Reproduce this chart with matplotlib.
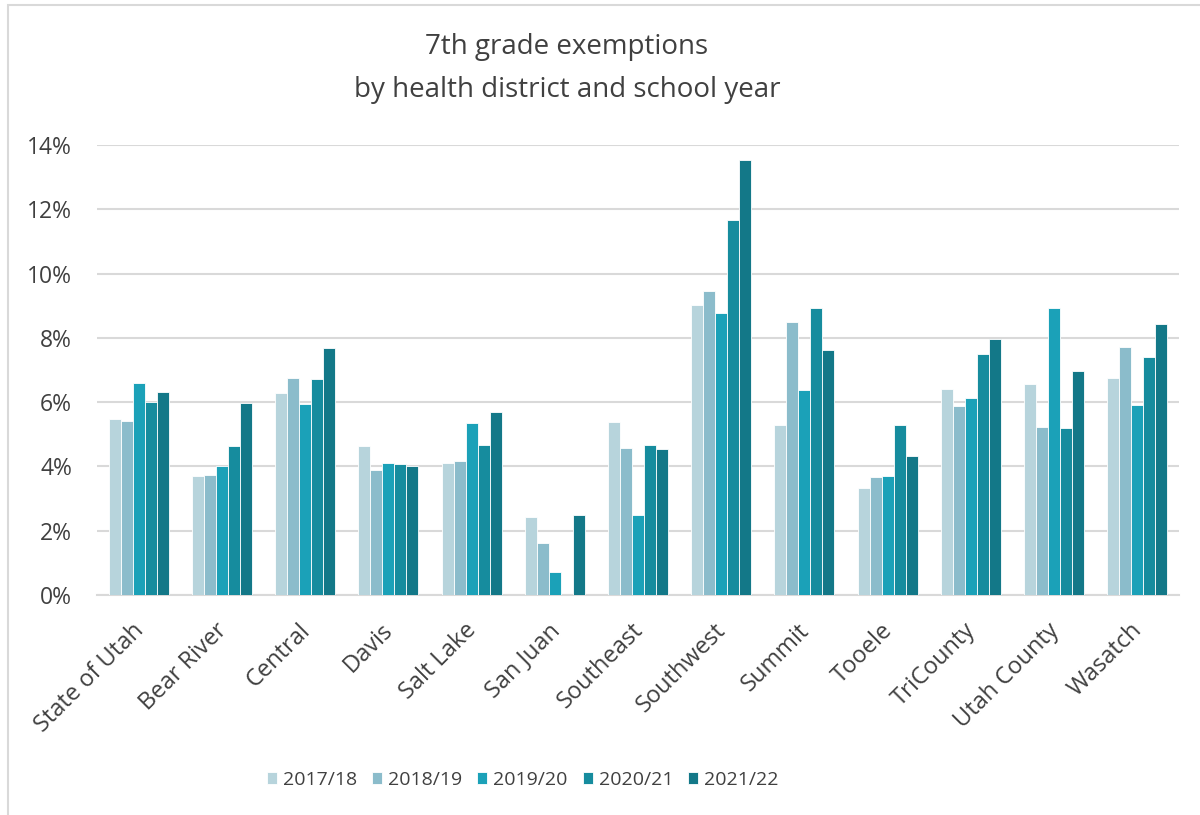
import numpy as np
import matplotlib.pyplot as plt
import matplotlib.transforms as mtransforms
from matplotlib.patches import Rectangle
from matplotlib.ticker import FuncFormatter

plt.rcParams['font.family'] = ['Open Sans', 'DejaVu Sans']

# ---------------------------------------------------------------------------
# Data (percent of 7th graders with exemptions)
# ---------------------------------------------------------------------------
districts = ['State of Utah', 'Bear River', 'Central', 'Davis', 'Salt Lake',
             'San Juan', 'Southeast', 'Southwest', 'Summit', 'Tooele',
             'TriCounty', 'Utah County', 'Wasatch']
years = ['2017/18', '2018/19', '2019/20', '2020/21', '2021/22']

y2017 = [5.48, 3.69, 6.27, 4.65, 4.10, 2.42, 5.38, 9.01, 5.29, 3.32, 6.41, 6.55, 6.75]
y2018 = [5.41, 3.72, 6.74, 3.89, 4.18, 1.62, 4.56, 9.45, 8.50, 3.66, 5.89, 5.22, 7.73]
y2019 = [6.59, 4.01, 5.93, 4.10, 5.35, 0.72, 2.50, 8.76, 6.39, 3.69, 6.14, 8.94, 5.92]
y2020 = [6.01, 4.65, 6.73, 4.09, 4.67, 0.00, 4.67, 11.67, 8.92, 5.29, 7.51, 5.20, 7.40]
y2021 = [6.33, 5.98, 7.68, 4.01, 5.68, 2.50, 4.54, 13.52, 7.62, 4.31, 7.97, 6.98, 8.42]

series = [y2017, y2018, y2019, y2020, y2021]
colors = ['#b7d4dc', '#8bbccb', '#1ba1b8', '#168c9e', '#137888']

TEXT = '#404040'
GRID = '#d9d9d9'

fig = plt.figure(figsize=(12, 8.15), dpi=100)
ax = fig.add_axes([97 / 1200, 1 - 595 / 815, 1082 / 1200, 450 / 815])

# outer chart border (only left/top visible in the reference)
fig.patches.append(Rectangle((8 / 1200, -0.05), 1.2, 1 - 5 / 815 + 0.05,
                             transform=fig.transFigure, fill=False,
                             edgecolor=GRID, linewidth=1.5))

x = np.arange(len(districts))
bw = 0.144
for i, (vals, c, lab) in enumerate(zip(series, colors, years)):
    ax.bar(x + (i - 2) * bw, vals, width=bw, color=c, edgecolor='white',
           linewidth=0.6, label=lab, zorder=3)

ax.set_xlim(-0.5, len(districts) - 0.5)
ax.set_ylim(0, 14)
ax.set_yticks(np.arange(0, 15, 2))
ax.yaxis.set_major_formatter(FuncFormatter(lambda v, p: f'{v:.0f}%'))
ax.grid(axis='y', color=GRID, linewidth=1.5, zorder=0)
for s in ['top', 'right', 'left']:
    ax.spines[s].set_visible(False)
ax.spines['bottom'].set_color(GRID)
ax.spines['bottom'].set_linewidth(1.5)
ax.tick_params(axis='y', length=0, pad=18, labelsize=16.5, labelcolor=TEXT)
ax.tick_params(axis='x', length=0, pad=17, labelsize=17, labelcolor=TEXT)
ax.set_xticks(x)
ax.set_xticklabels(districts, rotation=45, ha='right', rotation_mode='anchor')
shift = mtransforms.ScaledTranslation(-0.07, 0, fig.dpi_scale_trans)
for lbl in ax.get_xticklabels():
    lbl.set_transform(lbl.get_transform() + shift)

fig.text(567 / 1200, 1 - 68.5 / 815, '7th grade exemptions\nby health district and school year',
         ha='center', va='center', fontsize=20, color=TEXT, linespacing=1.74)

fig.legend(loc='center', bbox_to_anchor=(523 / 1200, 1 - 780 / 815), ncol=5,
           frameon=False, labelcolor=TEXT, fontsize=14, handlelength=0.51,
           handleheight=0.51, handletextpad=0.31, columnspacing=0.77)

fig.savefig('out.png', dpi=100)
